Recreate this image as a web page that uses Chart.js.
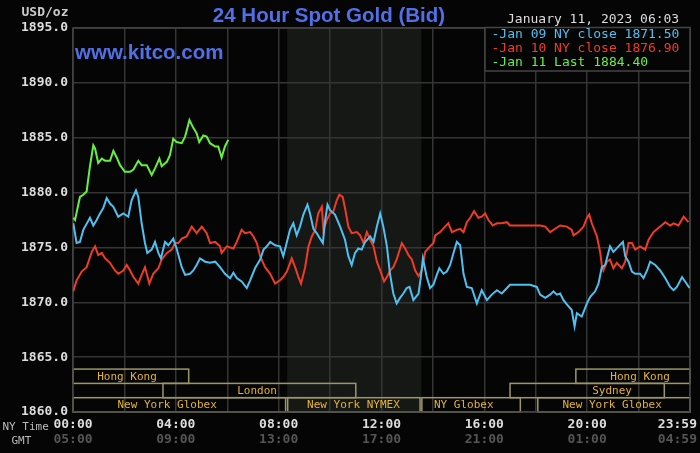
<!DOCTYPE html>
<html>
<head>
<meta charset="utf-8">
<script src="https://cdn.jsdelivr.net/npm/chart.js@4.4.1/dist/chart.umd.min.js"></script>
<style>
  html, body { margin: 0; padding: 0; background: #050505; }
  #wrap { width: 700px; height: 453px; }
</style>
</head>
<body>
<div id="wrap"><canvas id="c" width="700" height="453"></canvas></div>
<script>
// ---------- data (hours after 00:00 NY time, USD/oz) ----------
const jan09Hours = [0.01,0.14,0.27,0.40,0.66,0.79,0.92,1.05,1.18,1.31,1.44,1.57,1.76,1.96,2.15,2.28,2.45,2.54,2.67,2.80,2.89,3.06,3.19,3.32,3.42,3.58,3.71,3.90,4.03,4.23,4.36,4.55,4.68,4.81,4.94,5.14,5.33,5.53,5.72,5.91,6.11,6.24,6.37,6.56,6.76,6.89,7.08,7.28,7.41,7.54,7.67,7.86,8.05,8.18,8.32,8.44,8.57,8.70,8.83,8.96,9.12,9.22,9.35,9.48,9.61,9.72,9.81,9.90,10.00,10.19,10.39,10.58,10.71,10.84,10.97,11.10,11.23,11.36,11.56,11.69,11.82,11.95,12.07,12.21,12.33,12.46,12.59,12.72,12.85,12.98,13.09,13.24,13.44,13.53,13.61,13.76,13.89,14.02,14.15,14.25,14.41,14.54,14.67,14.80,14.93,15.06,15.19,15.32,15.51,15.71,15.90,16.10,16.29,16.49,16.68,16.88,17.00,17.39,17.78,18.04,18.17,18.37,18.56,18.69,18.82,18.95,19.08,19.21,19.40,19.51,19.60,19.79,19.99,20.12,20.31,20.44,20.57,20.70,20.89,21.02,21.22,21.39,21.48,21.61,21.74,21.87,22.06,22.19,22.33,22.45,22.65,22.84,23.04,23.23,23.36,23.49,23.69,23.81,23.98];
const jan09Prices = [1877.2,1875.4,1875.5,1876.6,1877.7,1877.0,1877.5,1878.1,1878.6,1879.5,1879.0,1878.7,1877.8,1878.1,1877.8,1879.3,1880.2,1879.6,1877.2,1875.4,1874.5,1874.8,1875.5,1874.5,1874.0,1875.5,1875.2,1875.8,1874.9,1873.2,1872.5,1872.6,1872.9,1873.4,1874.0,1873.7,1873.6,1873.7,1873.2,1872.6,1872.2,1872.7,1872.2,1871.9,1871.3,1872.0,1873.1,1873.9,1874.8,1875.1,1875.5,1875.2,1875.1,1874.2,1875.5,1876.6,1877.2,1876.1,1876.9,1878.0,1878.9,1878.1,1876.7,1876.3,1875.8,1875.4,1877.5,1878.9,1878.4,1878.0,1876.9,1875.7,1874.2,1873.4,1874.5,1874.9,1874.8,1875.5,1876.0,1875.5,1876.9,1878.1,1876.9,1875.1,1872.6,1870.8,1869.9,1870.4,1870.8,1871.3,1871.4,1870.2,1870.8,1872.3,1874.0,1872.3,1871.3,1871.6,1872.5,1873.1,1872.6,1872.8,1873.4,1874.5,1875.5,1875.2,1872.6,1871.4,1871.3,1869.9,1871.1,1870.2,1870.7,1871.1,1870.8,1871.3,1871.6,1871.6,1871.6,1871.4,1870.7,1870.4,1870.7,1871.0,1870.7,1870.8,1870.2,1869.8,1869.3,1867.8,1869.0,1868.7,1869.9,1870.5,1871.0,1871.7,1873.2,1873.4,1875.1,1874.6,1875.1,1875.5,1874.2,1873.7,1872.8,1872.6,1872.6,1872.2,1872.9,1873.7,1873.4,1872.9,1872.2,1871.4,1871.1,1871.4,1872.3,1871.9,1871.3];

const jan10Hours = [0.01,0.14,0.34,0.53,0.73,0.86,0.98,1.12,1.25,1.44,1.63,1.76,1.96,2.09,2.22,2.35,2.54,2.67,2.80,2.97,3.12,3.32,3.45,3.65,3.84,3.97,4.10,4.23,4.42,4.62,4.81,5.01,5.20,5.33,5.53,5.72,5.78,5.98,6.24,6.37,6.56,6.69,6.89,7.02,7.15,7.28,7.47,7.67,7.86,8.05,8.18,8.32,8.51,8.64,8.77,8.87,9.03,9.16,9.29,9.42,9.54,9.68,9.74,9.87,10.00,10.13,10.26,10.36,10.49,10.58,10.71,10.84,11.04,11.17,11.30,11.43,11.56,11.69,11.82,11.95,12.10,12.21,12.33,12.46,12.59,12.79,12.92,13.05,13.18,13.31,13.44,13.57,13.70,13.89,14.02,14.09,14.28,14.47,14.60,14.74,14.93,15.06,15.19,15.32,15.45,15.60,15.77,15.90,16.03,16.16,16.33,16.49,16.68,16.88,17.00,17.39,17.78,18.17,18.37,18.56,18.75,18.95,19.21,19.40,19.47,19.66,19.86,19.99,20.08,20.18,20.38,20.51,20.57,20.63,20.77,20.89,21.02,21.15,21.35,21.48,21.61,21.74,21.87,22.06,22.26,22.39,22.58,22.84,23.04,23.23,23.36,23.55,23.75,23.94];
const jan10Prices = [1871.0,1872.0,1872.8,1873.2,1874.6,1875.1,1874.3,1874.5,1874.0,1873.6,1872.9,1872.6,1872.9,1873.4,1872.9,1872.3,1871.7,1872.5,1873.2,1871.7,1872.6,1873.1,1873.9,1874.5,1874.8,1875.4,1875.4,1875.8,1876.0,1876.9,1876.3,1876.9,1876.3,1875.4,1875.5,1875.1,1874.5,1875.1,1874.9,1875.5,1876.6,1876.3,1876.4,1876.0,1875.4,1874.2,1873.2,1872.6,1871.7,1872.0,1872.3,1872.8,1874.0,1873.2,1872.3,1871.7,1873.2,1875.1,1876.0,1876.6,1878.1,1878.7,1876.6,1877.5,1878.1,1878.3,1879.3,1879.8,1879.6,1878.6,1876.9,1876.3,1876.4,1876.1,1875.4,1876.4,1875.7,1875.1,1873.7,1872.9,1871.9,1872.3,1872.9,1873.2,1873.9,1875.4,1874.9,1874.3,1873.9,1872.9,1872.4,1872.9,1874.6,1875.1,1875.4,1876.1,1876.4,1876.9,1877.2,1876.4,1876.6,1876.7,1876.4,1877.3,1877.7,1878.3,1877.7,1877.8,1878.1,1877.5,1877.0,1877.2,1877.2,1877.3,1877.0,1877.0,1877.0,1877.0,1876.9,1876.4,1876.7,1877.0,1876.9,1876.6,1876.1,1876.4,1876.9,1877.7,1878.0,1877.2,1876.0,1874.5,1873.4,1872.9,1873.7,1873.9,1873.1,1873.6,1873.1,1873.7,1875.4,1875.4,1874.8,1875.1,1874.8,1875.7,1876.4,1876.9,1877.3,1877.0,1877.2,1877.0,1877.8,1877.3];

const jan11Hours = [0.01,0.08,0.27,0.40,0.53,0.66,0.79,0.86,0.98,1.12,1.25,1.44,1.57,1.70,1.83,2.02,2.22,2.35,2.54,2.67,2.87,3.06,3.19,3.36,3.45,3.65,3.77,3.90,4.03,4.23,4.36,4.53,4.68,4.81,4.91,5.07,5.20,5.33,5.53,5.65,5.78,5.91,6.04];
const jan11Prices = [1877.7,1877.5,1879.6,1879.8,1880.1,1882.4,1884.3,1884.0,1882.7,1883.1,1882.9,1882.9,1883.8,1883.2,1882.5,1881.9,1881.9,1882.1,1882.9,1882.5,1882.5,1881.6,1882.2,1883.1,1882.4,1882.8,1883.4,1884.9,1884.6,1884.5,1885.1,1886.6,1885.9,1885.4,1884.6,1885.2,1885.1,1884.5,1884.2,1884.2,1883.2,1884.2,1884.8];

const seriesLabels = ['Jan 09 NY close 1871.50', 'Jan 10 NY close 1876.90', 'Jan 11 Last 1884.40'];

// tick labels
const yTickMin = 1860, yTickMax = 1895, yTickStep = 5;
const xTickHours = [0, 4, 8, 12, 16, 20, 23.983];
const nyTimeLabels = ['00:00', '04:00', '08:00', '12:00', '16:00', '20:00', '23:59'];
const gmtLabels = ['05:00', '09:00', '13:00', '17:00', '21:00', '01:00', '04:59'];

// trading sessions (hours, NY time); row 0 = top
const sessionNames = ['Hong Kong', 'London', 'New York Globex', 'New York NYMEX', 'NY Globex', 'Sydney', 'New York Globex', 'Hong Kong'];
const sessionStart = [0, 3.5, 0, 8.35, 13.57, 17.0, 18.08, 19.56];
const sessionEnd   = [4.5, 11.0, 8.27, 13.5, 17.4, 23.0, 24, 24];
const sessionRow   = [0, 1, 2, 2, 2, 1, 2, 0];
const sessionLabelAt = [2.10, 7.16, 3.66, 10.91, 15.20, 20.97, 20.97, 22.06];
const nymexShade = [8.33, 13.55];

const titleText = '24 Hour Spot Gold (Bid)';
const dateText = 'January 11, 2023 06:03';

// ---------- build ----------
function pts(xs, ys) { return xs.map((x, i) => ({ x: x, y: ys[i] })); }
const colors = ['#50c0f0', '#f03c26', '#66f040'];
const MONO = '"DejaVu Sans Mono", "Liberation Mono", monospace';
const SANS = '"Liberation Sans", Arial, sans-serif';

const decor = {
  id: 'decor',
  beforeDraw(chart) {
    const { ctx, chartArea: a, scales: { x } } = chart;
    ctx.save();
    ctx.fillStyle = '#050505';
    ctx.fillRect(0, 0, chart.width, chart.height);
    const sx0 = x.getPixelForValue(nymexShade[0]);
    const sx1 = x.getPixelForValue(nymexShade[1]);
    ctx.fillStyle = '#161816';
    ctx.fillRect(sx0, a.top, sx1 - sx0, a.bottom - a.top);
    ctx.restore();
  },
  beforeDatasetsDraw(chart) {
    const { ctx, chartArea: a, scales: { x } } = chart;
    ctx.save();
    const rowH = 14.3;
    ctx.font = '11px ' + MONO;
    ctx.textAlign = 'center';
    ctx.textBaseline = 'middle';
    for (let i = 0; i < sessionNames.length; i++) {
      const x0 = x.getPixelForValue(sessionStart[i]);
      const x1 = x.getPixelForValue(sessionEnd[i]);
      const yTop = a.bottom - (3 - sessionRow[i]) * rowH;
      ctx.strokeStyle = '#9c9668';
      ctx.lineWidth = 1.5;
      ctx.strokeRect(x0, yTop, x1 - x0, rowH);
      ctx.fillStyle = '#e4b436';
      ctx.fillText(sessionNames[i], x.getPixelForValue(sessionLabelAt[i]), yTop + rowH / 2 + 0.5);
    }
    // plot frame
    ctx.strokeStyle = '#444444';
    ctx.lineWidth = 1.5;
    ctx.strokeRect(a.left, a.top, a.right - a.left, a.bottom - a.top);
    ctx.restore();
  },
  afterDraw(chart) {
    const { ctx, chartArea: a, scales: { x } } = chart;
    ctx.save();
    // title
    ctx.fillStyle = '#5070e8';
    ctx.font = 'bold 20.5px ' + SANS;
    ctx.textAlign = 'center';
    ctx.textBaseline = 'alphabetic';
    ctx.fillText(titleText, 329, 22.3);
    ctx.textAlign = 'left';
    ctx.fillText('www.kitco.com', 75, 59);
    // units
    ctx.font = 'bold 13px ' + MONO;
    ctx.fillStyle = '#cccccc';
    ctx.textAlign = 'right';
    ctx.textBaseline = 'middle';
    ctx.fillText('USD/oz', 68.5, 13);
    // date
    ctx.font = '13px ' + MONO;
    ctx.fillStyle = '#dddddd';
    ctx.textAlign = 'left';
    ctx.fillText(dateText, 507, 20);
    // legend box
    const lx = 485, ly = a.top - 0.5, lw = a.right - 485, lh = 43.5;
    ctx.fillStyle = '#050505';
    ctx.fillRect(lx, ly, lw, lh);
    ctx.strokeStyle = '#444444';
    ctx.lineWidth = 1.5;
    ctx.strokeRect(lx, ly, lw, lh);
    ctx.font = '13px ' + MONO;
    chart.data.datasets.forEach((ds, i) => {
      ctx.fillStyle = ds.borderColor;
      ctx.fillText('-' + ds.label, 491.5, 35 + i * 13.8);
    });
    // x labels
    ctx.font = 'bold 13px ' + MONO;
    ctx.textBaseline = 'middle';
    for (let i = 0; i < xTickHours.length; i++) {
      const px = x.getPixelForValue(xTickHours[i]);
      const w = ctx.measureText(nyTimeLabels[i]).width;
      let cx = px;
      if (cx + w / 2 > 697) cx = 697 - w / 2;
      ctx.textAlign = 'center';
      ctx.fillStyle = '#dddddd';
      ctx.fillText(nyTimeLabels[i], cx, 424.5);
      ctx.fillStyle = '#555555';
      ctx.fillText(gmtLabels[i], cx, 440);
    }
    ctx.font = '11px ' + MONO;
    ctx.fillStyle = '#bbbbbb';
    ctx.textAlign = 'left';
    ctx.fillText('NY Time', 2.5, 427);
    ctx.fillText('GMT', 11.5, 441);
    ctx.restore();
  }
};

new Chart(document.getElementById('c'), {
  type: 'line',
  data: {
    datasets: [
      { label: seriesLabels[0], data: pts(jan09Hours, jan09Prices), borderColor: colors[0] },
      { label: seriesLabels[1], data: pts(jan10Hours, jan10Prices), borderColor: colors[1] },
      { label: seriesLabels[2], data: pts(jan11Hours, jan11Prices), borderColor: colors[2] }
    ]
  },
  options: {
    responsive: false,
    animation: false,
    devicePixelRatio: 1,
    layout: { padding: { top: 28, right: 10, left: 0, bottom: 0 } },
    elements: {
      line: { borderWidth: 2, tension: 0 },
      point: { radius: 0, hoverRadius: 0 }
    },
    plugins: { legend: { display: false }, tooltip: { enabled: false }, title: { display: false } },
    scales: {
      x: {
        type: 'linear',
        min: 0, max: 24,
        ticks: { display: false, stepSize: 2 },
        grid: { color: '#353535', lineWidth: 1.5, drawTicks: false },
        border: { display: false },
        afterFit(s) { s.height = 41; }
      },
      y: {
        min: yTickMin, max: yTickMax,
        ticks: {
          stepSize: yTickStep,
          padding: 5,
          color: '#dddddd',
          font: { family: MONO, size: 13, weight: 'bold' },
          callback: v => Number(v).toFixed(1)
        },
        grid: { color: '#353535', lineWidth: 1.5, drawTicks: false },
        border: { display: false },
        afterFit(s) { s.width = 73; }
      }
    }
  },
  plugins: [decor]
});
</script>
</body>
</html>
